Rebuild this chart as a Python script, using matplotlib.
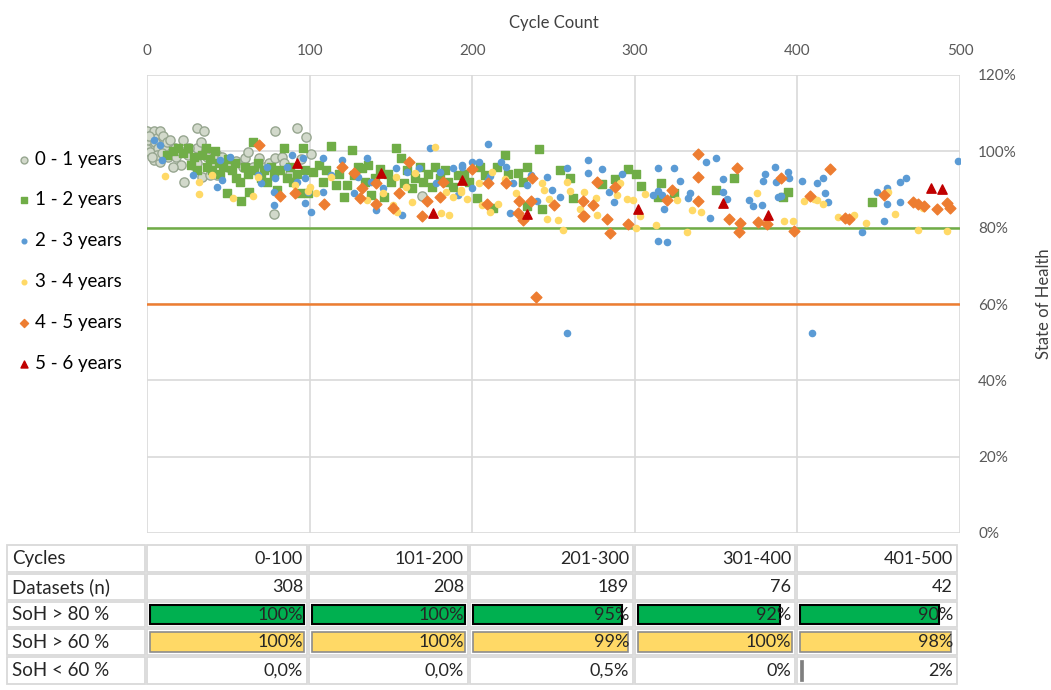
import matplotlib.pyplot as plt
from matplotlib.patches import Rectangle
import numpy as np

plt.rcParams['font.family'] = ['Lato', 'DejaVu Sans']

# ---- scatter data: (cycle count, state of health in %) ----
age_0_1 = [(0, 105.4), (2, 104), (4, 105.3), (6, 103.5), (8, 105.3), (1, 102), (3, 101), (5, 102.5),
           (0, 100.5), (2, 99.8), (7, 100.8), (10, 104), (11, 100.8), (12, 102.5), (14, 103), (15, 99.5),
           (17, 101), (4, 97.7), (8, 97.2), (6, 99), (13, 98.5), (18, 98.5), (20, 100), (21, 96.4),
           (23, 92), (25, 99), (28, 96.4), (31, 106), (31, 100.8), (31, 97), (33, 102.4), (35, 105.3),
           (34, 93.3), (37, 98.5), (39, 93.8), (40, 97), (43, 99), (43, 93.8), (46, 98.5), (50, 96),
           (55, 97.5), (60, 98.2), (62, 99.8), (59, 95.9), (65, 96), (69, 98.2), (72, 96), (75, 97),
           (78, 83.6), (79, 105.3), (79, 98.2), (83, 98.5), (84, 97), (88, 94), (92, 106), (95, 98),
           (98, 103.7), (101, 99.3), (169, 88.3), (26, 101), (22, 103), (16, 96), (9, 99.5), (3, 98.5),
           (1, 104)]

age_1_2 = [(12, 99), (16, 100), (19, 101), (22, 99.5),
           (25, 101), (27, 96.5), (29, 98.5), (31, 95), (34, 99), (36, 101), (37, 96),
           (39, 98), (40, 95), (42, 100), (44, 97), (45, 94), (47, 96), (49, 89), (50, 98), (52, 95),
           (54, 97), (55, 93), (57, 92), (58, 87), (60, 96), (62, 94), (63, 89.3), (65, 102.4), (66, 95),
           (68, 97), (70, 93), (72, 95), (74, 92), (76, 96), (78, 94), (80, 90), (82, 95), (84, 100.8),
           (86, 93), (88, 96), (90, 92), (92, 94), (94, 89), (96, 100.8), (97, 95), (99, 89), (102, 94.6),
           (106, 96.4), (108, 92), (110, 95), (113, 101.4), (116, 91.2), (118, 94), (121, 88), (123, 91.2),
           (126, 100.3), (127, 93.8), (130, 96), (132, 95.6), (134, 92), (136, 96.4), (138, 88.6), (140, 93),
           (143, 95.4), (146, 88), (148, 94), (150, 92), (153, 101), (156, 98.2), (158, 91.7), (160, 95),
           (163, 90.4), (165, 93), (168, 96), (170, 92), (173, 94), (175, 90.6), (177, 96), (180, 93),
           (183, 95), (185, 92), (188, 90.6), (191, 93.8), (195, 94), (198, 92), (203, 87.8), (205, 96),
           (208, 93.8), (213, 85.1), (215, 96), (220, 99), (222, 94), (228, 94.3), (231, 92), (234, 95.9),
           (234, 85.7), (241, 100.6), (243, 84.9), (254, 95.1), (260, 93), (262, 87.8), (280, 91.4),
           (288, 92.7), (296, 95.4), (301, 94), (304, 91), (314, 88), (316, 91.7), (324, 89), (350, 89.9),
           (361, 93), (391, 88), (394, 89.3), (446, 86.7)]

age_2_3 = [(4, 103), (8, 101.6), (9, 97.7), (28, 93.8), (43, 90.6), (46, 92.5), (45, 97.7), (51, 98.5),
           (68, 93.8), (70, 91.7), (74, 95.9), (79, 93), (78, 89.3), (78, 86), (89, 99), (86, 95.9),
           (92, 92), (97, 86.5), (99, 89.3), (96, 98.2), (101, 84), (108, 98.2), (120, 97.7), (135, 98.2),
           (130, 93.3), (138, 92), (141, 84.6), (157, 83.3), (153, 95.6), (160, 94.6), (167, 95.6),
           (174, 100.9), (180, 94.6), (188, 95.6), (194, 96.4), (191, 88.6), (145, 90.4), (108, 89.3),
           (113, 93.8), (178, 91.7), (97, 93), (127, 89), (210, 101.9), (200, 97.2), (204, 97.2),
           (194, 95.9), (218, 97.2), (221, 95.9), (210, 92.5), (200, 90.4), (225, 91.7), (236, 93.8),
           (234, 91.2), (246, 93.3), (249, 89.9), (254, 88), (258, 95.6), (271, 97.7), (271, 94.3),
           (280, 95.4), (284, 89.3), (292, 94), (287, 86.7), (223, 83.8), (240, 87), (211, 93.5),
           (258, 52.4), (409, 52.4), (314, 95.6), (324, 95.6), (344, 97.2), (350, 98.2), (328, 92.2),
           (314, 89.6), (311, 88.6), (317, 88.6), (333, 87.8), (334, 89), (354, 92.7), (354, 89.3),
           (357, 87.5), (346, 82.5), (318, 84.9), (314, 76.5), (320, 76.2), (370, 87.2), (373, 85.7),
           (378, 85.9), (379, 92.2), (380, 94), (386, 95.9), (387, 92), (394, 94.6), (395, 93), (388, 88),
           (390, 88.3), (403, 92.2), (412, 91.7), (416, 93), (417, 89), (419, 86.7), (440, 78.9),
           (449, 89.3), (455, 90.4), (455, 86.2), (453, 81.7), (463, 92), (467, 93), (463, 86.7),
           (499, 97.5)]

age_3_4 = [(11, 93.5), (32, 88.8), (40, 93.8), (53, 87.8), (65, 88.3), (32, 92), (68, 93.3), (99, 89.6),
           (91, 91.2), (177, 101.1), (100, 90.6), (104, 89), (113, 93.3), (135, 87.2), (145, 89), (151, 86),
           (154, 84), (153, 93.3), (163, 86.7), (159, 90.6), (165, 94.3), (181, 83.8), (186, 83.3),
           (188, 88), (193, 89.9), (184, 89.3), (193, 89.3), (197, 87.5), (204, 91.7), (212, 94.6),
           (206, 86), (211, 84), (216, 86.2), (220, 92.7), (227, 89), (243, 91.7), (244, 89.9), (247, 87.5),
           (246, 82.3), (253, 82), (256, 79.4), (258, 92), (260, 89.6), (266, 84.9), (269, 89.3),
           (276, 87.8), (277, 83.3), (291, 91.7), (289, 88.6), (295, 87.5), (299, 87.2), (301, 79.9),
           (303, 83), (306, 88.8), (313, 80.7), (326, 87.2), (332, 78.9), (335, 84.6), (341, 84.1),
           (375, 89), (392, 81.7), (397, 81.7), (404, 87), (410, 87.5), (412, 87.2), (416, 86.2),
           (425, 82.8), (435, 83.3), (442, 81.2), (456, 89.3), (460, 83.6), (474, 79.4), (492, 79.1),
           (477, 85.1)]

age_4_5 = [(69, 101.7), (82, 88.3), (91, 89), (161, 97.2), (120, 95.9), (127, 94.3), (132, 90.4),
           (131, 87.8), (141, 91.7), (109, 86.2), (141, 86.2), (151, 85.1), (155, 89), (169, 83), (172, 87),
           (180, 88), (182, 92), (200, 95.4), (210, 91.7), (221, 91.7), (237, 93), (209, 86.2), (229, 87),
           (236, 87), (228, 83.8), (231, 82), (250, 85.9), (268, 87), (274, 85.9), (268, 83), (269, 83),
           (277, 92), (288, 90.6), (283, 82.3), (285, 78.6), (296, 81), (239, 61.8), (339, 99.3),
           (339, 93.3), (323, 89.9), (320, 87.2), (339, 87), (363, 95.6), (390, 93), (358, 82.3),
           (365, 81.2), (364, 78.9), (376, 81.5), (381, 81), (398, 79.1), (420, 95.4), (408, 88.3),
           (429, 82.5), (432, 82.3), (453, 88.6), (471, 86.7), (474, 86.2), (478, 85.7), (486, 84.9),
           (492, 86.5), (494, 85.1)]

age_5_6 = [(92, 96.9), (144, 94.3), (176, 83.8), (194, 92.5), (234, 83.6), (302, 84.9), (354, 86.5),
           (382, 83.3), (482, 90.4), (489, 90.1)]

soh_limit_high = 80
soh_limit_low = 60

# ---- table data ----
cycle_bins = ["0-100", "101-200", "201-300", "301-400", "401-500"]
datasets_n = [308, 208, 189, 76, 42]
soh_above_80 = [100, 100, 95, 92, 90]
soh_above_60 = [100, 100, 99, 100, 98]
soh_below_60 = [0.0, 0.0, 0.5, 0, 2]
soh_below_60_txt = ["0,0%", "0,0%", "0,5%", "0%", "2%"]

fig = plt.figure(figsize=(10.51, 6.9), dpi=100)
W, H = 1051, 690
ax = fig.add_axes([147 / W, 1 - 533 / H, 813 / W, 458 / H])

series = [
    (age_0_1, "0 - 1 years", dict(marker="o", s=44, facecolor="#D2D9CB", edgecolor="#97A690", linewidths=1.0)),
    (age_1_2, "1 - 2 years", dict(marker="s", s=26, color="#70AD47")),
    (age_2_3, "2 - 3 years", dict(marker="o", s=20, color="#5B9BD5")),
    (age_3_4, "3 - 4 years", dict(marker="o", s=20, color="#FFD966")),
    (age_4_5, "4 - 5 years", dict(marker="D", s=30, color="#ED7D31")),
    (age_5_6, "5 - 6 years", dict(marker="^", s=45, color="#C00000")),
]
for pts, lab, style in series:
    arr = np.array(pts)
    ax.scatter(arr[:, 0], arr[:, 1], label=lab, zorder=3, **style)

ax.axhline(soh_limit_high, color="#70AD47", lw=1.8, zorder=2)
ax.axhline(soh_limit_low, color="#ED7D31", lw=1.8, zorder=2)

ax.set_xlim(0, 500)
ax.set_ylim(0, 120)
ax.set_xticks(np.arange(0, 501, 100))
ax.set_yticks(np.arange(0, 121, 20))
ax.set_yticklabels([f"{v}%" for v in range(0, 121, 20)])
ax.xaxis.tick_top()
ax.xaxis.set_label_position("top")
ax.yaxis.tick_right()
ax.yaxis.set_label_position("right")
ax.tick_params(length=0, labelsize=11, labelcolor="#595959")
ax.tick_params(axis="x", pad=12)
ax.tick_params(axis="y", pad=13)
ax.grid(True, color="#D9D9D9", lw=1.2, zorder=0)
ax.set_axisbelow(True)
for sp in ax.spines.values():
    sp.set_visible(False)
ax.set_xlabel("Cycle Count", fontsize=12, color="#404040", labelpad=12)
ax.set_ylabel("State of Health", fontsize=12, color="#404040", labelpad=14)

fig.legend(loc="upper left", bbox_to_anchor=(8 / W, 1 - 143 / H), frameon=False,
           fontsize=13.5, labelspacing=1.27, handletextpad=0.15, markerscale=0.75,
           handlelength=0.9, borderaxespad=0)

# ---- table below the chart ----
tab = fig.add_axes([0, 0, 1, 1])
tab.set_xlim(0, W)
tab.set_ylim(H, 0)
tab.axis("off")

col_edges = [(7, 145), (147, 307), (309, 468), (470, 633), (635, 795), (797, 957)]
row_edges = [(545, 572), (574, 600), (602, 627), (629, 655), (657, 684)]
row_labels = ["Cycles", "Datasets (n)", "SoH > 80 %", "SoH > 60 %", "SoH < 60 %"]

for (y0, y1) in row_edges:
    for (x0, x1) in col_edges:
        tab.add_patch(Rectangle((x0, y0), x1 - x0, y1 - y0, facecolor="white",
                                edgecolor="#D9D9D9", lw=1.3))

def cell_text(r, c, txt):
    y0, y1 = row_edges[r]
    if c == 0:
        x0, x1 = col_edges[0]
        tab.text(x0 + 5, (y0 + y1) / 2, txt, ha="left", va="center", fontsize=13.5, color="#262626")
    else:
        x0, x1 = col_edges[c]
        tab.text(x1 - 4, (y0 + y1) / 2, txt, ha="right", va="center", fontsize=13, color="#262626",
                 zorder=5)

def cell_bar(r, c, pct, face, edge, lw):
    y0, y1 = row_edges[r]
    x0, x1 = col_edges[c]
    bw = (x1 - x0 - 6) * pct / 100
    tab.add_patch(Rectangle((x0 + 3, y0 + 3), bw, y1 - y0 - 6, facecolor=face,
                            edgecolor=edge, lw=lw, zorder=3))

for r, lab in enumerate(row_labels):
    cell_text(r, 0, lab)

for i in range(len(cycle_bins)):
    c = i + 1
    cell_text(0, c, cycle_bins[i])
    cell_text(1, c, str(datasets_n[i]))
    cell_bar(2, c, soh_above_80[i], "#00B050", "black", 1.5)
    cell_text(2, c, f"{soh_above_80[i]}%")
    cell_bar(3, c, soh_above_60[i], "#FFD966", "#8C8C8C", 1.2)
    cell_text(3, c, f"{soh_above_60[i]}%")
    if soh_below_60[i] > 1:
        cell_bar(4, c, soh_below_60[i], "#7F7F7F", "#7F7F7F", 0.5)
    cell_text(4, c, soh_below_60_txt[i])

fig.savefig("out.png", dpi=100)
